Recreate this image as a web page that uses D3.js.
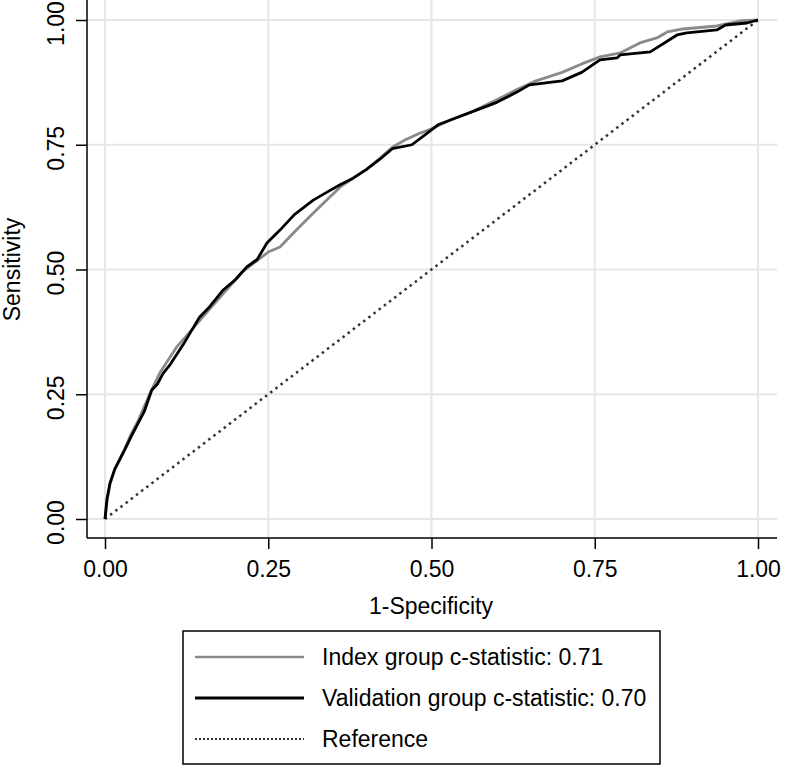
<!DOCTYPE html>
<html><head><meta charset="utf-8">
<script src="https://cdnjs.cloudflare.com/ajax/libs/d3/7.8.5/d3.min.js"></script>
<style>body{margin:0;background:#fff}svg{display:block}text{font-family:"Liberation Sans",Arial,sans-serif;fill:#000}</style>
</head><body>
<svg id="c" width="786" height="766"></svg>
<script>
const xTicks = [0, 0.25, 0.5, 0.75, 1];
const yTicks = [0, 0.25, 0.5, 0.75, 1];
const tickLabels = ["0.00", "0.25", "0.50", "0.75", "1.00"];
const xTitle = "1-Specificity";
const yTitle = "Sensitivity";
const seriesNames = ["Index group c-statistic: 0.71", "Validation group c-statistic: 0.70", "Reference"];

const indexFpr = [0,0.003,0.0077,0.015,0.03,0.04,0.05,0.06,0.07,0.084,0.1,0.11,0.13,0.15,0.17,0.19,0.21,0.23,0.25,0.268,0.29,0.319,0.34,0.36,0.38,0.4,0.42,0.44,0.46,0.48,0.5,0.53,0.56,0.6,0.63,0.66,0.7,0.73,0.758,0.789,0.819,0.845,0.861,0.885,0.937,0.972,1];
const indexTpr = [0,0.035,0.07,0.10,0.14,0.17,0.195,0.225,0.255,0.293,0.325,0.345,0.375,0.405,0.435,0.465,0.495,0.515,0.535,0.545,0.575,0.613,0.64,0.665,0.683,0.70,0.722,0.745,0.76,0.772,0.782,0.80,0.815,0.84,0.86,0.878,0.895,0.912,0.926,0.934,0.954,0.964,0.976,0.982,0.988,0.998,1];

const validFpr = [0,0.003,0.0077,0.015,0.03,0.04,0.05,0.06,0.0715,0.08,0.089,0.1,0.12,0.145,0.16,0.181,0.2,0.217,0.233,0.248,0.268,0.29,0.319,0.34,0.36,0.38,0.4,0.42,0.44,0.47,0.49,0.51,0.54,0.57,0.6,0.63,0.65,0.7,0.73,0.758,0.784,0.789,0.835,0.876,0.891,0.937,0.95,0.983,1];
const validTpr = [0,0.04,0.072,0.10,0.138,0.165,0.19,0.215,0.258,0.27,0.292,0.31,0.35,0.405,0.425,0.459,0.48,0.505,0.52,0.553,0.579,0.61,0.639,0.655,0.67,0.683,0.70,0.72,0.742,0.75,0.77,0.79,0.805,0.82,0.835,0.855,0.87,0.878,0.895,0.92,0.924,0.93,0.936,0.970,0.974,0.980,0.990,0.994,1];

const refFpr = [0, 1];
const refTpr = [0, 1];

const svg = d3.select("#c");
const x = d3.scaleLinear().domain([0, 1]).range([105, 758]);
const y = d3.scaleLinear().domain([0, 1]).range([519, 20]);
const plotL = 87, plotR = 777, plotT = 0, plotB = 538;
const FS = 23;

// grid
svg.append("g").selectAll("line").data(xTicks).join("line")
  .attr("x1", d => x(d)).attr("x2", d => x(d)).attr("y1", plotT).attr("y2", plotB)
  .attr("stroke", "#e6e6e6").attr("stroke-width", 2);
svg.append("g").selectAll("line").data(yTicks).join("line")
  .attr("x1", plotL).attr("x2", plotR).attr("y1", d => y(d)).attr("y2", d => y(d))
  .attr("stroke", "#e6e6e6").attr("stroke-width", 2);

// axes
const xAxis = d3.axisBottom(x).tickValues(xTicks).tickFormat((d, i) => tickLabels[i]).tickSize(11).tickPadding(12);
const gx = svg.append("g").attr("transform", `translate(0,${plotB})`).call(xAxis);
gx.select(".domain").attr("d", `M${plotL},0H${plotR}`).attr("stroke", "#000").attr("stroke-width", 1.5);
gx.selectAll(".tick line").attr("stroke", "#000").attr("stroke-width", 1.5);
gx.selectAll(".tick text").attr("font-size", FS).attr("font-family", "Liberation Sans, Arial, sans-serif").attr("fill", "#000");

const yAxis = d3.axisLeft(y).tickValues(yTicks).tickFormat((d, i) => tickLabels[i]).tickSize(11).tickPadding(12);
const gy = svg.append("g").attr("transform", `translate(${plotL},0)`).call(yAxis);
gy.select(".domain").attr("d", `M0,${plotT}V${plotB}`).attr("stroke", "#000").attr("stroke-width", 1.5);
gy.selectAll(".tick line").attr("stroke", "#000").attr("stroke-width", 1.5);
gy.selectAll(".tick text").attr("font-size", FS).attr("font-family", "Liberation Sans, Arial, sans-serif").attr("fill", "#000")
  .attr("transform", "rotate(-90)").attr("x", -3).attr("y", -23).attr("dy", 0).attr("text-anchor", "middle");

// titles
svg.append("text").attr("x", 431).attr("y", 614).attr("text-anchor", "middle").attr("font-size", FS).text(xTitle);
svg.append("text").attr("transform", `translate(20,${y(0.5)}) rotate(-90)`).attr("text-anchor", "middle").attr("font-size", FS).text(yTitle);

// lines
const line = d3.line().x(d => x(d[0])).y(d => y(d[1]));
const ref = refFpr.map((v, i) => [v, refTpr[i]]);
const idx = indexFpr.map((v, i) => [v, indexTpr[i]]);
const val = validFpr.map((v, i) => [v, validTpr[i]]);
svg.append("path").attr("d", line(ref)).attr("fill", "none").attr("stroke", "#333").attr("stroke-width", 2.5).attr("stroke-dasharray", "2.5,4");
svg.append("path").attr("d", line(idx)).attr("fill", "none").attr("stroke", "#8a8a8a").attr("stroke-width", 2.8).attr("stroke-linejoin", "round");
svg.append("path").attr("d", line(val)).attr("fill", "none").attr("stroke", "#000").attr("stroke-width", 2.8).attr("stroke-linejoin", "round");

// legend
const lg = svg.append("g");
lg.append("rect").attr("x", 183).attr("y", 631).attr("width", 477).attr("height", 133).attr("fill", "#fff").attr("stroke", "#000").attr("stroke-width", 1.5);
const styles = [
  {stroke: "#8a8a8a", w: 2.5, dash: null},
  {stroke: "#000", w: 2.8, dash: null},
  {stroke: "#333", w: 2, dash: "2,2"}
];
const rowY = [657, 698, 739];
seriesNames.forEach((n, i) => {
  lg.append("line").attr("x1", 195).attr("x2", 304).attr("y1", rowY[i]).attr("y2", rowY[i])
    .attr("stroke", styles[i].stroke).attr("stroke-width", styles[i].w).attr("stroke-dasharray", styles[i].dash);
  lg.append("text").attr("x", 322).attr("y", rowY[i] + 8).attr("font-size", FS).text(n);
});
</script>
</body></html>
